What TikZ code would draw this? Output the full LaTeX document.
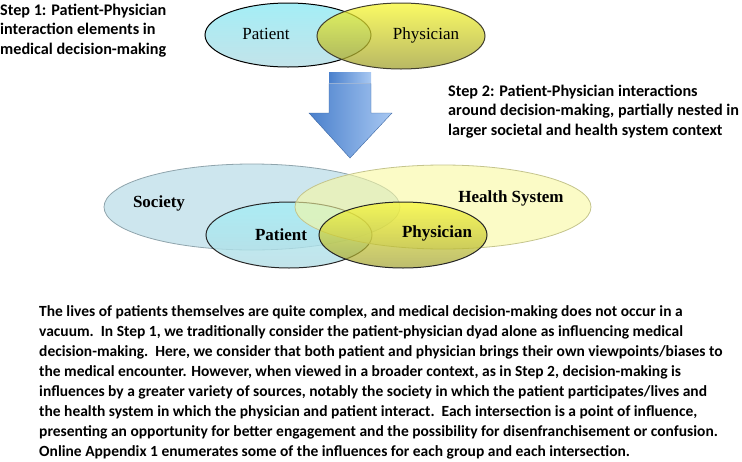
\documentclass[tikz,border=0pt]{standalone}
\usepackage{fontspec}
\setmainfont{Liberation Serif}
\newfontfamily\calfont{Carlito}
\begin{document}
\begin{tikzpicture}[x=1pt,y=-1pt,
  note/.style={font=\calfont\bfseries\fontsize{16.2}{19.5}\selectfont, anchor=base west, inner sep=0pt},
  body/.style={font=\calfont\bfseries\fontsize{15.5}{20}\selectfont, anchor=base west, inner sep=0pt},
  lab/.style={font=\fontsize{17}{20}\selectfont, anchor=base, inner sep=0pt},
  blab/.style={font=\bfseries\fontsize{17}{20}\selectfont, anchor=base, inner sep=0pt},
  outl/.style={line width=1pt}
]
\definecolor{socfill}{HTML}{CDE6EE}
\definecolor{socline}{HTML}{8FA4AC}
\definecolor{hsfill}{HTML}{F8F8A0}
\definecolor{hsline}{HTML}{C4C48C}
\definecolor{patA}{HTML}{A4EEF6}
\definecolor{patB}{HTML}{B4DCE4}
\definecolor{phyA}{HTML}{F8F830}
\definecolor{phyB}{HTML}{A0A030}
\definecolor{arrA}{HTML}{4A80CC}
\definecolor{arrB}{HTML}{A8C8F2}
\useasboundingbox (0,0) rectangle (742,461);

% ---- Step 1 ellipses
\path[outl, draw=black, top color=patA, bottom color=patB!80!white] (288,35) ellipse [x radius=83, y radius=32];
\path[outl, draw=black!70!olive, top color=phyA, bottom color=phyB, fill opacity=0.75] (401,36) ellipse [x radius=84, y radius=33];
\node[lab] (p1) at (266,39) {Patient};
\node[lab] (d1) at (426,39) {Physician};

% ---- arrow
\shade[left color=arrA, right color=arrB] (329,72) rectangle (371,75);
\shade[left color=arrA, right color=arrB] (329,76.5) rectangle (371,82);
\shade[left color=arrA, right color=arrB, draw=arrA!80!black, line width=0.4pt]
  (329,83.5) -- (371,83.5) -- (371,113) -- (392,113) -- (350,158) -- (309,113) -- (329,113) -- cycle;

% ---- Step texts
\node[note] (s1a) at (0,15) {Step 1: Patient-Physician};
\node[note] (s1b) at (0,34.5) {interaction elements in};
\node[note] (s1c) at (0,54) {medical decision-making};
\node[note] (s2a) at (448,96) {Step 2: Patient-Physician interactions};
\node[note] (s2b) at (448,115.5) {around decision-making, partially nested in};
\node[note] (s2c) at (448,135) {larger societal and health system context};

% ---- Step 2 ellipses
\path[line width=0.8pt, draw=socline, fill=socfill] (252,207) ellipse [x radius=148, y radius=43];
\path[outl, draw=black!85, top color=patA, bottom color=patB, fill opacity=0.8] (289,235) ellipse [x radius=83, y radius=33];
\path[line width=0.8pt, draw=hsline, fill=hsfill, fill opacity=0.6] (443,207) ellipse [x radius=148, y radius=42];
\path[outl, draw=black!85, top color=phyA, bottom color=phyB, fill opacity=0.7] (403,235) ellipse [x radius=84, y radius=33];
\node[blab] (soc) at (159,207) {Society};
\node[blab] (hs) at (511,202) {Health System};
\node[blab] (p2) at (281,240) {Patient};
\node[blab] (d2) at (437,237) {Physician};

% ---- body text
\node[body] (t1) at (39,316.7) {The lives of patients themselves are quite complex, and medical decision-making does not occur in a};
\node[body] (t2) at (39,336.7) {vacuum.\ \ In Step 1, we traditionally consider the patient-physician dyad alone as influencing medical};
\node[body] (t3) at (39,356.7) {decision-making.\ \ Here, we consider that both patient and physician brings their own viewpoints/biases to};
\node[body] (t4) at (39,376.7) {the medical encounter. However, when viewed in a broader context, as in Step 2, decision-making is};
\node[body] (t5) at (39,396.7) {influences by a greater variety of sources, notably the society in which the patient participates/lives and};
\node[body] (t6) at (39,416.7) {the health system in which the physician and patient interact.\ \ Each intersection is a point of influence,};
\node[body] (t7) at (39,436.7) {presenting an opportunity for better engagement and the possibility for disenfranchisement or confusion.};
\node[body] (t8) at (39,456.7) {Online Appendix 1 enumerates some of the influences for each group and each intersection.};
\end{tikzpicture}
\end{document}
